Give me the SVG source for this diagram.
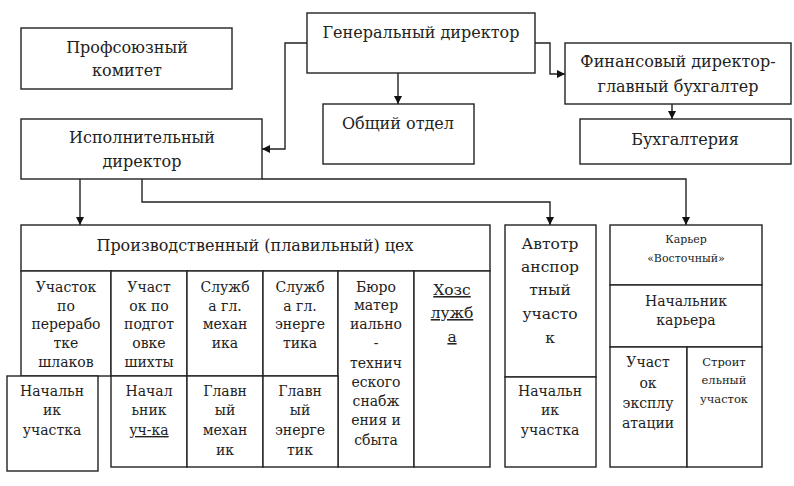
<svg xmlns="http://www.w3.org/2000/svg" width="794" height="486" viewBox="0 0 794 486">
<defs>
<marker id="ah" viewBox="0 0 10 10" refX="10" refY="5" markerWidth="8" markerHeight="8" markerUnits="userSpaceOnUse" orient="auto">
<path d="M0,0 L10,5 L0,10 z" fill="#111"/>
</marker>
<style>
.b{fill:#fff;stroke:#222;stroke-width:1.4}
.c{fill:none;stroke:#222;stroke-width:1.4}
text{font-family:"DejaVu Serif","Liberation Serif",serif;fill:#222;text-anchor:middle}
.l{font-size:16px}
.a{font-size:15.5px}
.m{font-size:14px}
.s{font-size:11px}
.s2{font-size:11.5px}
.u{text-decoration:underline}
</style>
</defs>
<rect width="794" height="486" fill="#fff"/>
<g id="connectors">
<polyline class="c" points="398,73 398,104" marker-end="url(#ah)"/>
<polyline class="c" points="307,43 285,43 285,149 262,149" marker-end="url(#ah)"/>
<polyline class="c" points="535,43 550,43 550,74 565,74" marker-end="url(#ah)"/>
<polyline class="c" points="672,104 672,119" marker-end="url(#ah)"/>
<polyline class="c" points="80,179 80,225" marker-end="url(#ah)"/>
<polyline class="c" points="142,179 142,202 550,202 550,225" marker-end="url(#ah)"/>
<polyline class="c" points="262,179 686,179 686,225" marker-end="url(#ah)"/>
</g>
<g id="profsoyuz">
<rect class="b" x="21" y="28" width="211" height="61"/>
<text class="l" x="127" y="53">Профсоюзный</text>
<text class="l" x="127" y="76">комитет</text>
</g>
<g id="gen-dir">
<rect class="b" x="307" y="13" width="228" height="60"/>
<text class="l" x="421" y="38">Генеральный директор</text>
</g>
<g id="ispoln-dir">
<rect class="b" x="21" y="119" width="241" height="60"/>
<text class="l" x="142" y="143">Исполнительный</text>
<text class="l" x="142" y="167">директор</text>
</g>
<g id="obshiy-otdel">
<rect class="b" x="323" y="104" width="151" height="60"/>
<text class="l" x="398" y="129">Общий отдел</text>
</g>
<g id="fin-dir">
<rect class="b" x="565" y="43" width="226" height="61"/>
<text class="l" x="678" y="67">Финансовый директор-</text>
<text class="l" x="678" y="92">главный бухгалтер</text>
</g>
<g id="buhgalteriya">
<rect class="b" x="580" y="119" width="211" height="45"/>
<text class="l" x="685" y="145">Бухгалтерия</text>
</g>
<g id="proizv-ceh">
<rect class="b" x="21" y="225" width="469" height="46"/>
<text class="l" x="255" y="251">Производственный (плавильный) цех</text>
</g>
<g id="uch-pererabotki">
<rect class="b" x="21" y="271" width="90" height="105"/>
<text class="m" x="66" y="292">Участок</text>
<text class="m" x="66" y="311">по</text>
<text class="m" x="66" y="329">перерабо</text>
<text class="m" x="66" y="348">тке</text>
<text class="m" x="66" y="367">шлаков</text>
</g>
<g id="uch-podgotovki">
<rect class="b" x="111" y="271" width="76" height="105"/>
<text class="m" x="149" y="292">Участ</text>
<text class="m" x="149" y="311">ок по</text>
<text class="m" x="149" y="329">подгот</text>
<text class="m" x="149" y="348">овке</text>
<text class="m" x="149" y="367">шихты</text>
</g>
<g id="sl-mehanika">
<rect class="b" x="187" y="271" width="76" height="105"/>
<text class="m" x="225" y="292">Служб</text>
<text class="m" x="225" y="311">а гл.</text>
<text class="m" x="225" y="329">механ</text>
<text class="m" x="225" y="348">ика</text>
</g>
<g id="sl-energetika">
<rect class="b" x="263" y="271" width="75" height="105"/>
<text class="m" x="300" y="292">Служб</text>
<text class="m" x="300" y="311">а гл.</text>
<text class="m" x="300" y="329">энерге</text>
<text class="m" x="300" y="348">тика</text>
</g>
<g id="byuro-mts">
<rect class="b" x="338" y="271" width="76" height="196"/>
<text class="m" x="376" y="292">Бюро</text>
<text class="m" x="376" y="310">матер</text>
<text class="m" x="376" y="329">иально</text>
<text class="m" x="376" y="348">-</text>
<text class="m" x="376" y="368">технич</text>
<text class="m" x="376" y="387">еского</text>
<text class="m" x="376" y="406">снабж</text>
<text class="m" x="376" y="425">ения и</text>
<text class="m" x="376" y="445">сбыта</text>
</g>
<g id="hozsluzhba">
<rect class="b" x="414" y="271" width="76" height="196"/>
<text class="a u" x="452" y="295">Хозс</text>
<text class="a u" x="452" y="318">лужб</text>
<text class="a u" x="452" y="342">а</text>
</g>
<g id="nach-uch-ka">
<rect class="b" x="111" y="376" width="76" height="91"/>
<text class="m" x="149" y="396">Начал</text>
<text class="m" x="149" y="415">ьник</text>
<text class="m u" x="149" y="435">уч-ка</text>
</g>
<g id="gl-mehanik">
<rect class="b" x="187" y="376" width="76" height="91"/>
<text class="m" x="225" y="396">Главн</text>
<text class="m" x="225" y="415">ый</text>
<text class="m" x="225" y="435">механ</text>
<text class="m" x="225" y="455">ик</text>
</g>
<g id="gl-energetik">
<rect class="b" x="263" y="376" width="75" height="91"/>
<text class="m" x="300" y="396">Главн</text>
<text class="m" x="300" y="415">ый</text>
<text class="m" x="300" y="435">энерге</text>
<text class="m" x="300" y="455">тик</text>
</g>
<g id="nach-uchastka-1">
<rect class="b" x="7" y="376" width="91" height="95"/>
<text class="m" x="52" y="396">Начальн</text>
<text class="m" x="52" y="415">ик</text>
<text class="m" x="52" y="435">участка</text>
</g>
<g id="avtotrans">
<rect class="b" x="505" y="225" width="91" height="152"/>
<text class="a" x="550" y="249">Автотр</text>
<text class="a" x="550" y="272">анспор</text>
<text class="a" x="550" y="295">тный</text>
<text class="a" x="550" y="319">участо</text>
<text class="a" x="550" y="343">к</text>
</g>
<g id="nach-uchastka-2">
<rect class="b" x="505" y="377" width="91" height="90"/>
<text class="m" x="550" y="396">Начальн</text>
<text class="m" x="550" y="415">ик</text>
<text class="m" x="550" y="435">участка</text>
</g>
<g id="karier">
<rect class="b" x="610" y="225" width="152" height="60"/>
<text class="s" x="686" y="243">Карьер</text>
<text class="s" x="686" y="262">«Восточный»</text>
</g>
<g id="nach-kariera">
<rect class="b" x="610" y="285" width="152" height="62"/>
<text class="m" x="686" y="306">Начальник</text>
<text class="m" x="686" y="325">карьера</text>
</g>
<g id="uch-ekspl">
<rect class="b" x="610" y="347" width="77" height="120"/>
<text class="m" x="648" y="367">Участ</text>
<text class="m" x="648" y="388">ок</text>
<text class="m" x="648" y="408">эксплу</text>
<text class="m" x="648" y="428">атации</text>
</g>
<g id="stroit-uch">
<rect class="b" x="687" y="347" width="75" height="120"/>
<text class="s2" x="724" y="366">Строит</text>
<text class="s2" x="724" y="384">ельный</text>
<text class="s2" x="724" y="403">участок</text>
</g>
</svg>
